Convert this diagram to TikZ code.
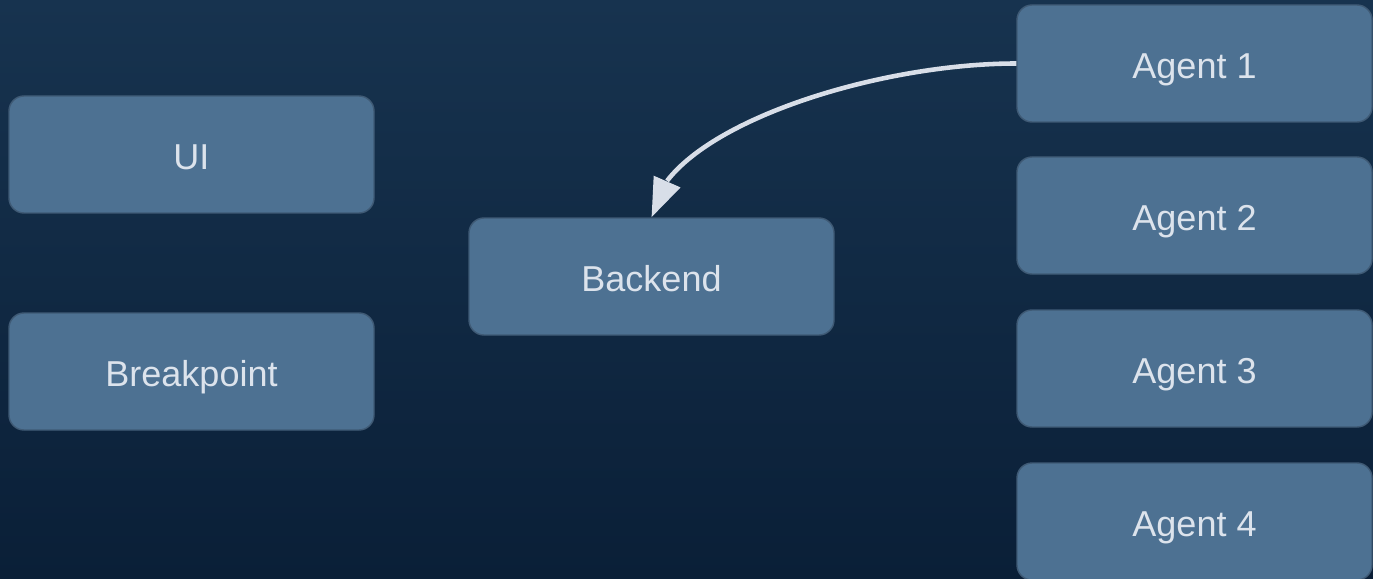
\documentclass[tikz,border=0pt]{standalone}
\usepackage{fontspec}
\setmainfont{Liberation Sans}
\usepackage{tikz}
\usetikzlibrary{arrows.meta,bending}
\definecolor{bgtop}{HTML}{17334F}
\definecolor{bgbot}{HTML}{0A1F37}
\definecolor{boxfill}{HTML}{4D7192}
\definecolor{boxline}{HTML}{3F5A75}
\definecolor{txt}{HTML}{DCE3EC}
\definecolor{arrowc}{HTML}{D8DEE8}

\begin{document}
\begin{tikzpicture}[box/.style={draw=boxline,line width=0.8pt,fill=boxfill,rounded corners=0.3cm,minimum width=7.3cm,minimum height=2.34cm,text=txt,text height=0.7cm,text depth=0.1cm,font=\fontsize{20.5}{24}\selectfont}]
    \shade[top color=bgtop,bottom color=bgbot] (0,0) rectangle (27.46,-11.58);
    \useasboundingbox (0,0) rectangle (27.46,-11.58);

    \node[box] (ui) at (3.83,-3.09) {UI};
    \node[box] (brk) at (3.83,-7.43) {Breakpoint};
    \node[box] (be) at (13.03,-5.53) {Backend};
    \node[box,minimum width=7.1cm] (a1) at (23.89,-1.27) {Agent 1};
    \node[box,minimum width=7.1cm] (a2) at (23.89,-4.31) {Agent 2};
    \node[box,minimum width=7.1cm] (a3) at (23.89,-7.37) {Agent 3};
    \node[box,minimum width=7.1cm] (a4) at (23.89,-10.43) {Agent 4};

    \path
    (a1.west) [-{Triangle[length=0.78cm,width=0.56cm,flex]},arrowc,line width=2.6pt] edge [out=180,in=85,out looseness=0.97,in looseness=0.55] (be.north);
\end{tikzpicture}
\end{document}
